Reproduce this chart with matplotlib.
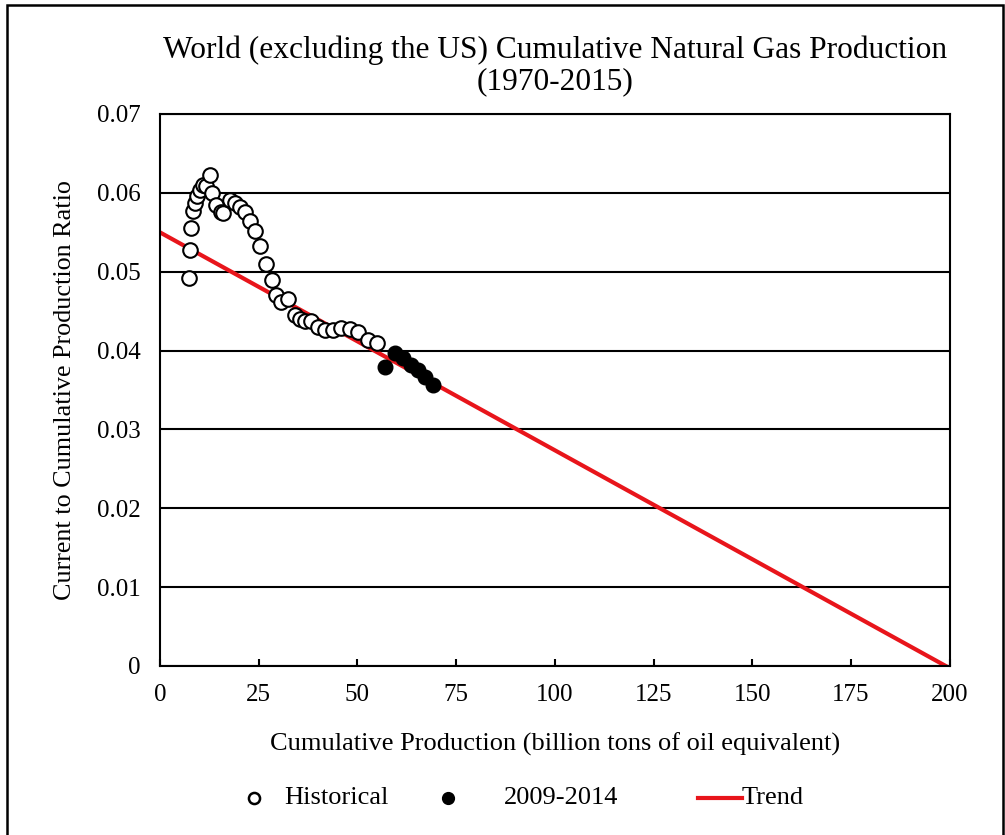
import matplotlib.pyplot as plt
from matplotlib.patches import Rectangle
from matplotlib.lines import Line2D

hist_x = [7.4, 7.6, 8.0, 8.4, 9.0, 9.5, 10.1, 11.0, 11.8, 12.7, 13.3, 14.3, 15.4, 16.0,
          17.7, 19.0, 20.3, 21.5, 22.8, 24.1, 25.3, 26.8, 28.3, 29.5, 30.8, 32.5,
          34.2, 35.4, 36.7, 38.4, 40.1, 41.8, 43.9, 46.0, 48.1, 50.2, 52.7, 54.9]
hist_y = [0.0492, 0.0527, 0.0556, 0.0577, 0.0587, 0.0596, 0.0604, 0.0610, 0.0609, 0.0623,
          0.0600, 0.0585, 0.0576, 0.0574, 0.0591, 0.0587, 0.0582, 0.0576, 0.0564, 0.0552,
          0.0532, 0.0510, 0.0489, 0.0470, 0.0462, 0.0466, 0.0445, 0.0440, 0.0437, 0.0437,
          0.0430, 0.0426, 0.0426, 0.0428, 0.0427, 0.0424, 0.0414, 0.0410]

recent_x = [57.0, 59.5, 61.6, 63.7, 65.4, 67.1, 69.2]
recent_y = [0.0379, 0.0397, 0.0390, 0.0382, 0.0375, 0.0367, 0.0356]

trend_x = [0, 199]
trend_y = [0.0550, 0.0]

plt.rcParams['font.family'] = ['Liberation Serif', 'DejaVu Serif']

fig = plt.figure(figsize=(10.05, 8.35), dpi=100)
ax = fig.add_axes([0.159, 0.2024, 0.786, 0.6611])

red = '#e8151b'
ax.plot(trend_x, trend_y, color=red, lw=3, zorder=2)
ax.plot(hist_x, hist_y, 'o', ms=10.5, mfc='white', mec='black', mew=1.5, zorder=3)
ax.plot(recent_x, recent_y, 'o', ms=10.5, mfc='black', mec='black', zorder=4)

ax.set_xlim(0, 200)
ax.set_ylim(0, 0.07)
ax.set_xticks(range(0, 201, 25))
ax.set_yticks([i / 100 for i in range(8)])
ax.set_yticklabels(['0'] + ['%.2f' % (i / 100) for i in range(1, 8)])
ax.yaxis.grid(True, color='black', lw=1.5)
ax.set_axisbelow(True)
ax.tick_params(axis='x', direction='in', length=5, width=1.5, labelsize=18, pad=13)
ax.tick_params(axis='y', length=0, labelsize=18, pad=14)
for s in ax.spines.values():
    s.set_linewidth(1.5)

ax.set_title('World (excluding the US) Cumulative Natural Gas Production\n(1970-2015)',
             fontsize=22.6, pad=18, linespacing=1.1)
ax.set_xlabel('Cumulative Production (billion tons of oil equivalent)', fontsize=19, labelpad=19)
ax.set_ylabel('Current to Cumulative Production Ratio', fontsize=18.8, labelpad=15)

# legend, drawn entry by entry
ly = 0.044
fs = 19
fig.add_artist(Line2D([254 / 1005], [ly], marker='o', ms=8, mfc='white', mec='black', mew=1.8,
                      transform=fig.transFigure))
fig.text(284 / 1005, ly, 'Historical', fontsize=fs, va='center')
fig.add_artist(Line2D([448 / 1005], [ly], marker='o', ms=8.5, mfc='black', mec='black',
                      transform=fig.transFigure))
fig.text(504 / 1005, ly, '2009-2014', fontsize=fs, va='center')
fig.add_artist(Line2D([698 / 1005, 742 / 1005], [ly, ly], color=red, lw=3,
                      transform=fig.transFigure))
fig.text(742 / 1005, ly, 'Trend', fontsize=fs, va='center')

fig.patches.append(Rectangle((0.007, -0.01), 0.991, 1.004, transform=fig.transFigure,
                             fill=False, ec='black', lw=1.8))

fig.savefig('out.png', dpi=100)
